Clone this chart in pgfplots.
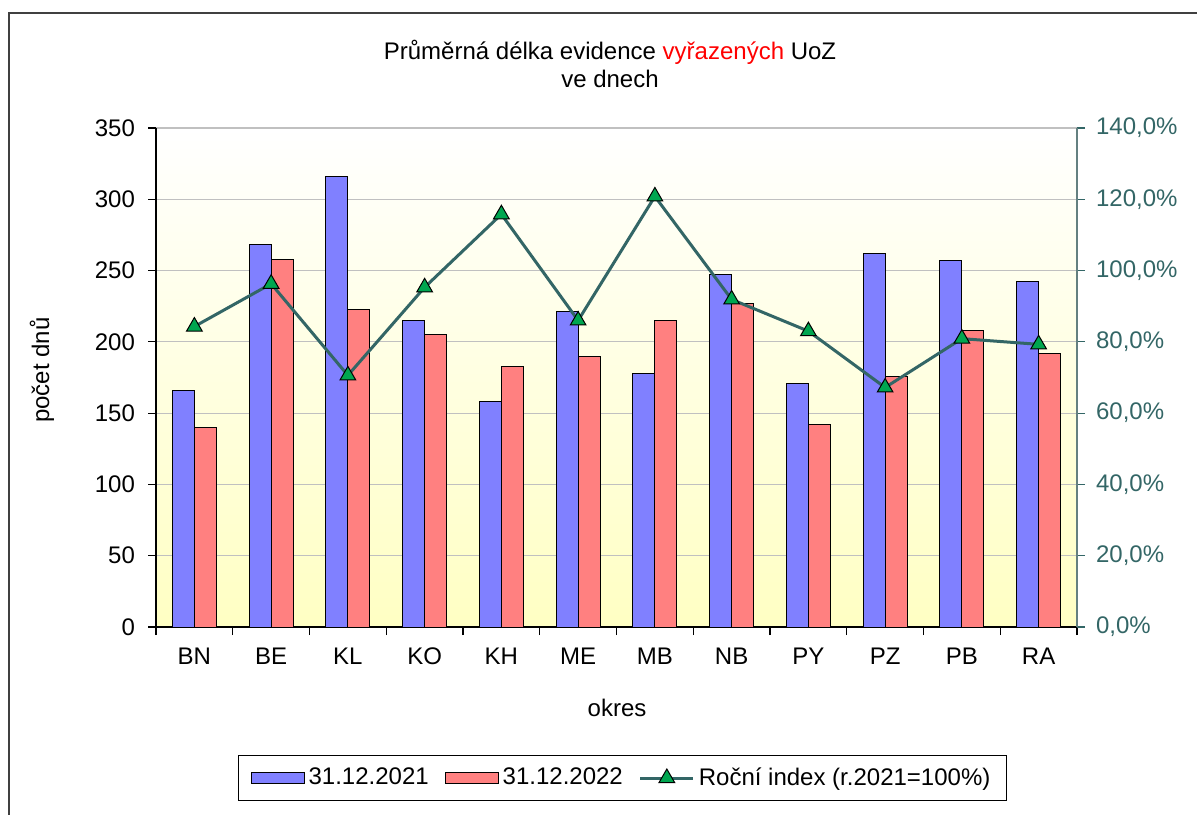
\documentclass[border=0pt]{standalone}
\usepackage{fontspec}
\setmainfont{Liberation Sans}
\usepackage{pgfplots}
\pgfplotsset{compat=1.18}
\definecolor{barblue}{RGB}{128,128,255}
\definecolor{barred}{RGB}{255,128,128}
\definecolor{idxcol}{RGB}{51,102,102}
\definecolor{axisgray}{RGB}{100,128,128}
\definecolor{mkgreen}{RGB}{0,166,80}
\definecolor{gridgray}{RGB}{192,192,192}
\definecolor{bgyellow}{RGB}{255,255,195}
\pgfplotsset{
  rectlegend/.style={legend image code/.code={\draw[##1] (0pt,-2.75pt) rectangle (26.5pt,2.75pt);}},
  linelegend/.style={legend image code/.code={\draw[mark repeat=2,mark phase=2,##1] plot coordinates {(0pt,0pt)(13.25pt,0pt)(26.5pt,0pt)};}},
}
\begin{document}
\begin{tikzpicture}[x=1pt,y=1pt]
\useasboundingbox (0,0) rectangle (598.5,407);
\draw[line width=0.8pt, black!75] (4.5,-2) -- (4.5,400.5) -- (601,400.5);
\node[align=center, font=\fontsize{12}{14}\selectfont] at (305,375) {Průměrná délka evidence \textcolor{red}{vyřazených} UoZ\\ve dnech};
\node[font=\fontsize{12}{14}\selectfont] at (308.5,53) {okres};
\node[rotate=90, font=\fontsize{12}{14}\selectfont] at (21,222) {počet dnů};
\begin{axis}[at={(78pt,93.5pt)}, anchor=south west, width=460.5pt, height=249.5pt, scale only axis,
  font=\fontsize{12}{14}\selectfont,
  /pgf/number format/assume math mode=true,
  xmin=-0.5, xmax=11.5, ymin=0, ymax=350, ytick={0,50,...,350},
  yticklabel style={xshift=-3pt},
  xtick={-0.5,0.5,...,11.5}, xticklabels={},
  extra x ticks={0,1,...,11},
  extra x tick labels={BN,BE,KL,KO,KH,ME,MB,NB,PY,PZ,PB,RA},
  extra x tick style={major tick length=0pt, grid=none, xticklabel style={yshift=-7pt}},
  axis x line=bottom, axis y line=left, axis line style={-, black, line width=0.6pt},
  ymajorgrids, grid style={gridgray, line width=0.6pt},
  tick align=outside, major tick length=4pt, tick style={black, line width=0.6pt},
  ybar=0pt, bar width=11pt,
  axis background/.style={top color=white, bottom color=bgyellow},
]
\addplot[fill=barblue, draw=black, line width=0.5pt] coordinates {(0,166) (1,268) (2,316) (3,215) (4,158) (5,221) (6,178) (7,247) (8,171) (9,262) (10,257) (11,242)};
\addplot[fill=barred, draw=black, line width=0.5pt] coordinates {(0,140) (1,258) (2,223) (3,205) (4,183) (5,190) (6,215) (7,227) (8,142) (9,176) (10,208) (11,192)};
\end{axis}
\begin{axis}[at={(78pt,93.5pt)}, anchor=south west, width=460.5pt, height=249.5pt, scale only axis,
  font=\fontsize{12}{14}\selectfont,
  xmin=-0.5, xmax=11.5, ymin=0, ymax=140,
  axis y line=right, axis x line=none, axis line style={-, axisgray, line width=0.8pt},
  ytick={0,20,...,140},
  yticklabels={{0,0\%},{20,0\%},{40,0\%},{60,0\%},{80,0\%},{100,0\%},{120,0\%},{140,0\%}},
  yticklabel style={idxcol, xshift=2pt},
  tick align=outside, major tick length=4pt, tick style={idxcol, line width=0.6pt},
  legend columns=3,
  legend style={at={(0.5065,-0.3026)}, anchor=center, draw=black, line width=0.6pt,
    font=\fontsize{12}{14}\selectfont, inner xsep=6pt, inner ysep=4pt,
    /tikz/every even column/.append style={column sep=6pt}},
]
\addlegendimage{rectlegend, fill=barblue, draw=black, line width=0.5pt}
\addlegendentry{31.12.2021}
\addlegendimage{rectlegend, fill=barred, draw=black, line width=0.5pt}
\addlegendentry{31.12.2022}
\addplot[linelegend, idxcol, line width=1.5pt, mark=triangle*, mark size=4.5pt, mark options={fill=mkgreen, draw=black, line width=0.5pt}] coordinates {(0,84.3) (1,96.3) (2,70.6) (3,95.3) (4,115.8) (5,86.0) (6,120.8) (7,91.9) (8,83.0) (9,67.2) (10,80.9) (11,79.3)};
\addlegendentry{Roční index (r.2021=100\%)}
\end{axis}
\end{tikzpicture}
\end{document}
